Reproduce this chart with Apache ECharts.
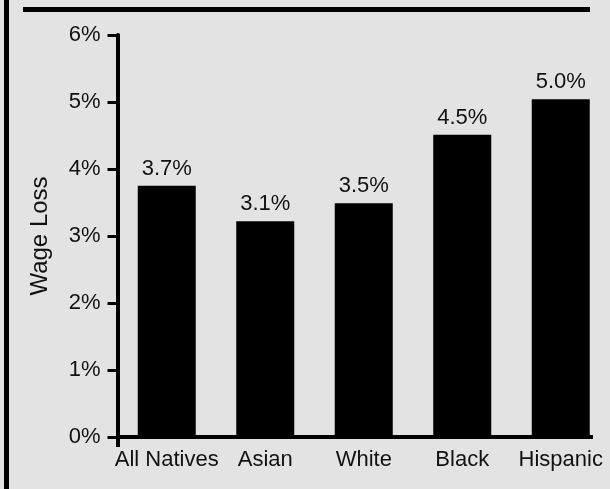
<!DOCTYPE html>
<html>
<head>
<meta charset="utf-8">
<script src="https://cdn.jsdelivr.net/npm/echarts@6/dist/echarts.min.js"></script>
<style>
html,body{margin:0;padding:0;background:#e3e3e3;}
#main{width:610px;height:489px;}
</style>
</head>
<body>
<div id="main"></div>
<script>
const categories = ['All Natives', 'Asian', 'White', 'Black', 'Hispanic'];
const wageLoss = [3.75, 3.22, 3.49, 4.51, 5.04];
const valueLabels = ['3.7%', '3.1%', '3.5%', '4.5%', '5.0%'];
const yTicks = { min: 0, max: 6, interval: 1 };

const FONT = '"Liberation Sans", Arial, sans-serif';
const chart = echarts.init(document.getElementById('main'), null, { renderer: 'canvas' });
chart.setOption({
  backgroundColor: '#e3e3e3',
  animation: false,
  graphic: [
    { type: 'rect', left: 4, top: 0, z: 100, shape: { width: 5, height: 489 }, style: { fill: '#000' } },
    { type: 'rect', left: 23, top: 7, z: 100, shape: { width: 567, height: 5 }, style: { fill: '#000' } },
    { type: 'rect', left: 593, top: 430, z: 100, shape: { width: 17, height: 20 }, style: { fill: '#e3e3e3' } }
  ],
  grid: { left: 117.5, top: 35, right: -3, bottom: 52, containLabel: false },
  xAxis: {
    type: 'category',
    data: categories,
    boundaryGap: true,
    axisLine: { show: true, lineStyle: { color: '#000', width: 4 } },
    axisTick: { show: true, interval: function (i) { return i === 0; }, length: 10, lineStyle: { color: '#000', width: 4 } },
    axisLabel: { color: '#111', fontFamily: FONT, fontSize: 22, margin: 12, interval: 0 },
    splitLine: { show: false }
  },
  yAxis: {
    type: 'value',
    min: yTicks.min, max: yTicks.max, interval: yTicks.interval,
    name: 'Wage Loss',
    nameLocation: 'middle',
    nameGap: 65,
    nameTextStyle: { color: '#111', fontFamily: FONT, fontSize: 24 },
    axisLine: { show: true, lineStyle: { color: '#000', width: 4 } },
    axisTick: { show: true, length: 10, lineStyle: { color: '#000', width: 3 } },
    axisLabel: { color: '#111', fontFamily: FONT, fontSize: 22, margin: 17, formatter: '{value}%' },
    splitLine: { show: false }
  },
  series: [{
    type: 'bar',
    data: wageLoss,
    barWidth: 58,
    itemStyle: { color: '#000' },
    label: {
      show: true, position: 'top', distance: 6,
      color: '#111', fontFamily: FONT, fontSize: 22,
      formatter: function (p) { return valueLabels[p.dataIndex]; }
    }
  }]
});
</script>
</body>
</html>
